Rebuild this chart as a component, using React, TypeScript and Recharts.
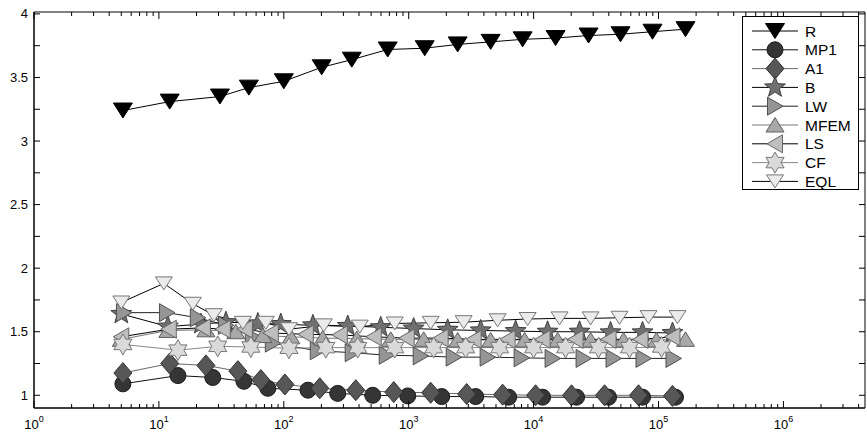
import React from 'react';
import { LineChart, Line, XAxis, YAxis, Legend } from 'recharts';

// ---------- data (x = problem size on log axis, y = ratio) ----------
const xR = [5.15, 12.2, 30.8, 52.5, 100, 201, 350, 679, 1343, 2466, 4529, 8166, 14997, 27542, 49659, 89536, 164437];
const yR = [3.24, 3.31, 3.35, 3.42, 3.47, 3.58, 3.64, 3.72, 3.73, 3.76, 3.78, 3.80, 3.81, 3.83, 3.84, 3.86, 3.88];

const xMP1 = [5.15, 14.2, 27.0, 47.9, 74.5, 156, 270, 515, 982, 1837, 3436, 6310, 11803, 22080, 39811, 74473, 136773];
const yMP1 = [1.09, 1.155, 1.14, 1.11, 1.055, 1.04, 1.015, 1.0, 0.995, 0.99, 0.99, 0.985, 0.985, 0.985, 0.985, 0.985, 0.985];

const xA1 = [5.15, 12.2, 23.8, 42.9, 65.5, 102, 194, 377, 759, 1500, 2911, 5649, 10375, 20137, 36983, 69183, 129420];
const yA1 = [1.175, 1.25, 1.235, 1.19, 1.12, 1.085, 1.055, 1.04, 1.025, 1.02, 1.01, 1.005, 1.0, 1.0, 1.0, 1.0, 0.995];

const xB = [5.0, 11.8, 21.7, 34.4, 62, 94.6, 171, 325, 597, 1096, 2051, 3767, 7178, 12942, 23335, 41305, 74473, 129420];
const yB = [1.64, 1.54, 1.56, 1.575, 1.565, 1.56, 1.55, 1.545, 1.535, 1.525, 1.515, 1.51, 1.505, 1.5, 1.5, 1.495, 1.495, 1.49];

const xLW = [5.25, 11.6, 20.5, 34.4, 56.5, 81.7, 187, 356, 667, 1247, 2291, 4285, 8017, 14191, 25119, 43652, 75858, 131826];
const yLW = [1.65, 1.65, 1.61, 1.55, 1.46, 1.41, 1.35, 1.335, 1.315, 1.31, 1.3, 1.3, 1.295, 1.29, 1.29, 1.29, 1.29, 1.29];

const xMFEM = [5.0, 11.8, 23.8, 41.3, 68, 114, 205, 384, 718, 1318, 2466, 4529, 8472, 15560, 28576, 52481, 96383, 164437];
const yMFEM = [1.44, 1.51, 1.515, 1.5, 1.47, 1.46, 1.45, 1.445, 1.44, 1.44, 1.435, 1.435, 1.435, 1.435, 1.435, 1.435, 1.435, 1.44];

const xLS = [5.0, 12.0, 22.5, 32.5, 48.8, 78.7, 150, 281, 525, 964, 1803, 3311, 6194, 11803, 21677, 39811, 71779, 129420];
const yLS = [1.46, 1.52, 1.53, 1.52, 1.52, 1.49, 1.48, 1.475, 1.46, 1.45, 1.45, 1.44, 1.44, 1.44, 1.44, 1.44, 1.44, 1.46];

const xCF = [5.15, 14.2, 29.6, 54.5, 110, 217, 391, 773, 1585, 2858, 5346, 10000, 18030, 33113, 58614, 105682];
const yCF = [1.4, 1.355, 1.385, 1.38, 1.37, 1.375, 1.375, 1.375, 1.375, 1.375, 1.375, 1.375, 1.375, 1.375, 1.375, 1.38];

const xEQL = [5.0, 10.96, 18.7, 27.5, 47.0, 71.8, 110, 209, 406, 773, 1500, 2754, 5152, 8954, 16144, 28576, 48753, 83176, 141906];
const yEQL = [1.73, 1.88, 1.72, 1.63, 1.57, 1.57, 1.52, 1.55, 1.54, 1.565, 1.57, 1.575, 1.59, 1.6, 1.605, 1.605, 1.61, 1.615, 1.615];

const seriesNames = ['R', 'MP1', 'A1', 'B', 'LW', 'MFEM', 'LS', 'CF', 'EQL'];

const xMajorTicks = [1, 10, 100, 1000, 10000, 100000, 1000000];
const xMajorExp = ['0', '1', '2', '3', '4', '5', '6'];
const yTicks = [1, 1.25, 1.5, 1.75, 2, 2.25, 2.5, 2.75, 3, 3.25, 3.5, 3.75, 4];
const yTickLabels: Record<string, string> = { '1': '1', '1.5': '1.5', '2': '2', '2.5': '2.5', '3': '3', '3.5': '3.5', '4': '4' };

const X_DOMAIN: [number, number] = [1, 4.5e6];
const Y_DOMAIN: [number, number] = [0.9, 4.015];

// ---------- styling ----------
const FONT = '"Liberation Sans", Arial, Helvetica, sans-serif';

type Shape = 'triDown' | 'circle' | 'diamond' | 'star5' | 'triRight' | 'triUp' | 'triLeft' | 'hexagram' | 'triDownS';

const toPts = (xs: number[], ys: number[]) => xs.map((x, i) => ({ x, y: ys[i] }));

const series = [
  { name: 'R', data: toPts(xR, yR), shape: 'triDown' as Shape, fill: '#000000', edge: '#000000', line: '#000000' },
  { name: 'MP1', data: toPts(xMP1, yMP1), shape: 'circle' as Shape, fill: '#353535', edge: '#1a1a1a', line: '#111111' },
  { name: 'A1', data: toPts(xA1, yA1), shape: 'diamond' as Shape, fill: '#575757', edge: '#303030', line: '#6a6a6a' },
  { name: 'B', data: toPts(xB, yB), shape: 'star5' as Shape, fill: '#707070', edge: '#404040', line: '#000000' },
  { name: 'LW', data: toPts(xLW, yLW), shape: 'triRight' as Shape, fill: '#959595', edge: '#505050', line: '#222222' },
  { name: 'MFEM', data: toPts(xMFEM, yMFEM), shape: 'triUp' as Shape, fill: '#a8a8a8', edge: '#606060', line: '#777777' },
  { name: 'LS', data: toPts(xLS, yLS), shape: 'triLeft' as Shape, fill: '#bebebe', edge: '#666666', line: '#000000' },
  { name: 'CF', data: toPts(xCF, yCF), shape: 'hexagram' as Shape, fill: '#dadada', edge: '#777777', line: '#888888' },
  { name: 'EQL', data: toPts(xEQL, yEQL), shape: 'triDownS' as Shape, fill: '#ebebeb', edge: '#777777', line: '#000000' },
];

function starPath(n: number, R: number, r: number) {
  const pts: string[] = [];
  for (let i = 0; i < 2 * n; i++) {
    const a = (-90 + (180 / n) * i) * Math.PI / 180;
    const rad = i % 2 === 0 ? R : r;
    pts.push(`${(rad * Math.cos(a)).toFixed(2)},${(rad * Math.sin(a)).toFixed(2)}`);
  }
  return 'M' + pts.join('L') + 'Z';
}

const shapePaths: Record<string, string> = {
  triDown: 'M-9.5,-7.5L9.5,-7.5L0,7.5Z',
  triDownS: 'M-8.5,-6.5L8.5,-6.5L0,6.5Z',
  triUp: 'M-9,7L9,7L0,-7.5Z',
  triRight: 'M-7.5,-9L8,0L-7.5,9Z',
  triLeft: 'M7.5,-9L-8,0L7.5,9Z',
  diamond: 'M0,-10.5L9,0L0,10.5L-9,0Z',
  star5: starPath(5, 11, 4.6),
  hexagram: starPath(6, 10.5, 6.0),
};

function Marker({ shape, cx, cy, fill, edge }: { shape: Shape; cx: number; cy: number; fill: string; edge: string }) {
  if (shape === 'circle') {
    return <circle cx={cx} cy={cy} r={8} fill={fill} stroke={edge} strokeWidth={1} />;
  }
  return <path d={shapePaths[shape]} transform={`translate(${cx},${cy})`} fill={fill} stroke={edge} strokeWidth={1} />;
}

const makeDot = (s: typeof series[number]) => (p: any) => {
  const { cx, cy, index } = p;
  if (cx == null || cy == null || isNaN(cx) || isNaN(cy)) return <g key={`${s.name}-${index}`} />;
  return (
    <g key={`${s.name}-${index}`}>
      <Marker shape={s.shape} cx={cx} cy={cy} fill={s.fill} edge={s.edge} />
    </g>
  );
};

// ---------- ticks ----------
const minorFactors = [2, 3, 4, 5, 6, 7, 8, 9];
const xAllTicks = xMajorTicks
  .flatMap((m) => [m, ...minorFactors.map((f) => m * f)])
  .filter((v) => v >= X_DOMAIN[0] && v <= X_DOMAIN[1]);

const XTickBottom = (p: any) => {
  const { x, y, payload } = p;
  const idx = xMajorTicks.indexOf(payload.value);
  const major = idx >= 0;
  const len = major ? 7 : 4;
  return (
    <g>
      <line x1={x} x2={x} y1={y} y2={y - len} stroke="#000" strokeWidth={1} />
      {major && (
        <text x={x} y={y + 21} textAnchor="middle" fontFamily={FONT} fontSize={13} fill="#000">
          10
          <tspan dy={-7} fontSize={9}>{xMajorExp[idx]}</tspan>
        </text>
      )}
    </g>
  );
};

const XTickTop = (p: any) => {
  const { x, y, payload } = p;
  const major = xMajorTicks.indexOf(payload.value) >= 0;
  const len = major ? 7 : 4;
  return <line x1={x} x2={x} y1={y} y2={y + len} stroke="#000" strokeWidth={1} />;
};

const YTickLeft = (p: any) => {
  const { x, y, payload } = p;
  const label = yTickLabels[String(payload.value)];
  return (
    <g>
      <line x1={x} x2={x + 6} y1={y} y2={y} stroke="#000" strokeWidth={1} />
      {label && (
        <text x={x - 6} y={y + 4.5} textAnchor="end" fontFamily={FONT} fontSize={13} fill="#000">
          {label}
        </text>
      )}
    </g>
  );
};

const YTickRight = (p: any) => {
  const { x, y } = p;
  return <line x1={x} x2={x - 6} y1={y} y2={y} stroke="#000" strokeWidth={1} />;
};

// ---------- legend ----------
const LegendBox = () => {
  const rowY0 = 15;
  const rowDy = 18.8;
  return (
    <svg width={118} height={175} style={{ display: 'block', overflow: 'visible' }}>
      <rect x={0.5} y={0.5} width={116} height={173} fill="#fff" stroke="#000" strokeWidth={1} />
      {series.map((s, i) => {
        const y = rowY0 + i * rowDy;
        return (
          <g key={s.name}>
            <line x1={10} x2={56} y1={y} y2={y} stroke={s.line} strokeWidth={1} />
            <Marker shape={s.shape} cx={33} cy={y} fill={s.fill} edge={s.edge} />
            <text x={63} y={y + 5.5} fontFamily={FONT} fontSize={15.5} fill="#000">{seriesNames[i]}</text>
          </g>
        );
      })}
    </svg>
  );
};

export default function App() {
  return (
    <div style={{ position: 'absolute', left: 0, top: 0, width: 867, height: 434, background: '#fff' }}>
      <LineChart width={867} height={434} margin={{ top: 11, right: 1, bottom: 0, left: 0 }}>
        <XAxis
          dataKey="x"
          type="number"
          scale="log"
          domain={X_DOMAIN}
          allowDataOverflow
          ticks={xAllTicks}
          interval={0}
          tickSize={0}
          tickMargin={0}
          tick={<XTickBottom />}
          height={26}
          axisLine={{ stroke: '#000', strokeWidth: 1.5 }}
          tickLine={false}
        />
        <XAxis
          xAxisId="top"
          orientation="top"
          dataKey="x"
          type="number"
          scale="log"
          domain={X_DOMAIN}
          allowDataOverflow
          ticks={xAllTicks}
          interval={0}
          tickSize={0}
          tickMargin={0}
          tick={<XTickTop />}
          height={1}
          axisLine={{ stroke: '#000', strokeWidth: 1 }}
          tickLine={false}
        />
        <YAxis
          type="number"
          domain={Y_DOMAIN}
          allowDataOverflow
          ticks={yTicks}
          interval={0}
          tickSize={0}
          tickMargin={0}
          tick={<YTickLeft />}
          width={34}
          axisLine={{ stroke: '#000', strokeWidth: 1.5 }}
          tickLine={false}
        />
        <YAxis
          yAxisId="right"
          orientation="right"
          type="number"
          domain={Y_DOMAIN}
          allowDataOverflow
          ticks={yTicks}
          interval={0}
          tickSize={0}
          tickMargin={0}
          tick={<YTickRight />}
          width={1}
          axisLine={{ stroke: '#000', strokeWidth: 1 }}
          tickLine={false}
        />
        {series.map((s) => (
          <Line
            key={s.name}
            name={s.name}
            data={s.data}
            dataKey="y"
            type="linear"
            stroke={s.line}
            strokeWidth={1}
            dot={makeDot(s)}
            activeDot={false}
            isAnimationActive={false}
          />
        ))}
        <Legend
          layout="vertical"
          align="center"
          verticalAlign="middle"
          content={() => <LegendBox />}
          wrapperStyle={{ position: 'absolute', left: 742, top: 16, width: 118, height: 175 }}
        />
      </LineChart>
    </div>
  );
}
